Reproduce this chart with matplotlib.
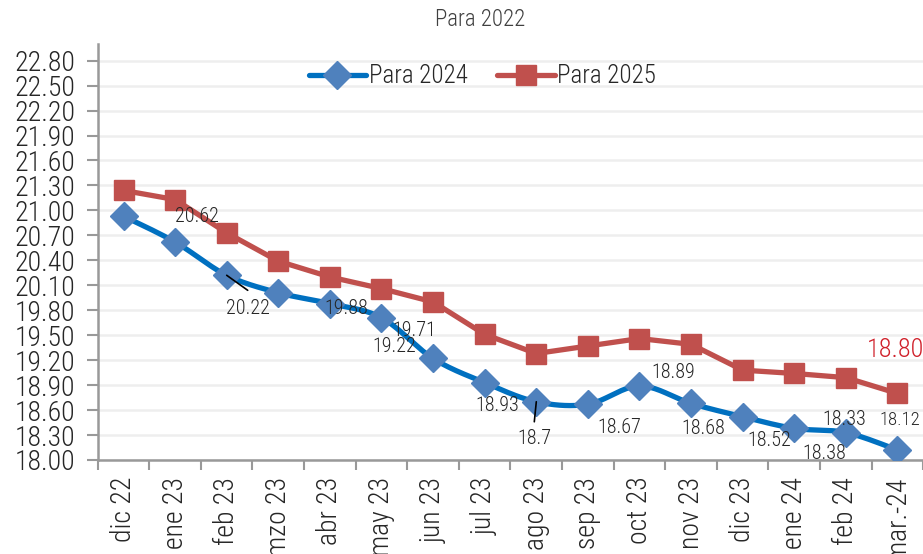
import numpy as np
import matplotlib
matplotlib.use("Agg")
import matplotlib.pyplot as plt
from matplotlib import font_manager as fm

names = {f.name for f in fm.fontManager.ttflist}
fam = [n for n in ["Roboto Condensed", "Liberation Sans Narrow", "Roboto", "DejaVu Sans"] if n in names]
plt.rcParams['font.family'] = fam
plt.rcParams['font.weight'] = 'light'

categories = ["dic 22", "ene 23", "feb 23", "mzo 23", "abr 23", "may 23", "jun 23", "jul 23",
              "ago 23", "sep 23", "oct 23", "nov 23", "dic 23", "ene 24", "feb 24", "mar.-24"]
para_2024 = [20.93, 20.62, 20.22, 20.01, 19.88, 19.71, 19.22, 18.93,
             18.70, 18.67, 18.89, 18.68, 18.52, 18.38, 18.33, 18.12]
para_2025 = [21.24, 21.13, 20.73, 20.39, 20.20, 20.06, 19.90, 19.51,
             19.28, 19.37, 19.46, 19.39, 19.08, 19.04, 18.99, 18.80]
label_2024 = ["", "20.62", "20.22", "", "19.88", "19.71", "19.22", "18.93",
              "18.7", "18.67", "18.89", "18.68", "18.52", "18.38", "18.33", "18.12"]
yticks = [18.00, 18.30, 18.60, 18.90, 19.20, 19.50, 19.80, 20.10, 20.40, 20.70,
          21.00, 21.30, 21.60, 21.90, 22.20, 22.50, 22.80]

# label offsets in pixels (dx, dy) relative to point
offs = {1: (22, 26), 2: (21, -33), 4: (16, -5), 5: (33, -13), 6: (-39, 12), 7: (13, -23),
        8: (-2, -37), 9: (31, -23), 10: (34, 13), 11: (12, -25), 12: (27, -24),
        13: (30, -25), 14: (-2, 13), 15: (2, 30)}

fig = plt.figure(figsize=(9.23, 5.54), dpi=100)
ax = fig.add_axes([97.7/923, 1-460/554, (923.3-97.7)/923, (460-44)/554])
x = np.arange(len(categories))
ax.set_xlim(-0.5, len(categories)-0.5)
ax.set_ylim(18.0, 23.0)

blue_line = "#0070C0"
blue_mk = "#4F81BD"
red = "#C0504D"

# smooth (Catmull-Rom) rendering of the 2024 line in display space
fig.canvas.draw()
pts = ax.transData.transform(np.column_stack([x, para_2024]))
P = np.vstack([pts[0], pts, pts[-1]])
curve = []
for i in range(1, len(P)-2):
    p0, p1, p2, p3 = P[i-1], P[i], P[i+1], P[i+2]
    for t in np.linspace(0, 1, 20, endpoint=False):
        t2, t3 = t*t, t*t*t
        c = 0.5*((2*p1) + (-p0+p2)*t + (2*p0-5*p1+4*p2-p3)*t2 + (-p0+3*p1-3*p2+p3)*t3)
        curve.append(c)
curve.append(P[-2])
curve = ax.transData.inverted().transform(np.array(curve))

ax.plot(curve[:, 0], curve[:, 1], color=blue_line, lw=3.8, solid_capstyle='round', zorder=3)
ax.plot(x, para_2024, ls='none', marker='D', ms=14, color=blue_mk, zorder=4)
ax.plot(x, para_2025, color=red, lw=3.8, marker='s', ms=14, zorder=3)

# legend handles
ax.plot([], [], color=blue_line, lw=3.8, marker='D', ms=14, mfc=blue_mk, mec=blue_mk, label="Para 2024", solid_capstyle='round')
ax.plot([], [], color=red, lw=3.8, marker='s', ms=14, label="Para 2025", solid_capstyle='round')
handles, labels = ax.get_legend_handles_labels()
leg = ax.legend(handles[-2:], labels[-2:], loc='upper center', bbox_to_anchor=(0.466, 1.005), ncol=2,
                frameon=False, fontsize=18, handlelength=2.3, handletextpad=0.1, columnspacing=1.2,
                labelcolor='#262626')

for i, lab in enumerate(label_2024):
    if not lab:
        continue
    dx, dy = offs[i]
    ax.annotate(lab, (x[i], para_2024[i]), xytext=(dx, dy), textcoords='offset pixels',
                ha='center', va='center', fontsize=14.5 if i != 15 else 13.5, color='#262626', zorder=6)
ax.annotate("18.80", (x[15], para_2025[15]), xytext=(-2, 43), textcoords='offset pixels',
            ha='center', va='center', fontsize=19, color='#D0202A', zorder=6)

# leader lines
ax.annotate('', (x[2], para_2024[2]), xytext=(21, -15), textcoords='offset pixels',
            arrowprops=dict(arrowstyle='-', color='black', lw=1.2, shrinkA=0, shrinkB=0), zorder=7)
ax.annotate('', (x[8], para_2024[8]), xytext=(-2, -20), textcoords='offset pixels',
            arrowprops=dict(arrowstyle='-', color='black', lw=1.2, shrinkA=0, shrinkB=0), zorder=7)

ax.set_yticks(yticks)
ax.set_yticklabels([f"{v:.2f}" for v in yticks], fontsize=20, color='#262626')
ax.set_xticks(x)
ax.set_xticklabels(categories, rotation=90, fontsize=20, color='#262626', va='top', ha='center')
ax.set_xticks(np.arange(-0.5, len(categories)), minor=True)
ax.tick_params(axis='x', which='major', length=0, pad=12)
ax.tick_params(axis='x', which='minor', length=7, width=1.5, color='#999999')
ax.tick_params(axis='y', length=8, width=1.5, color='#999999', pad=8)

ax.grid(axis='y', color='#EEEEEE', lw=1.8, zorder=0)
ax.set_axisbelow(True)
for s in ['top', 'right']:
    ax.spines[s].set_visible(False)
for s in ['left', 'bottom']:
    ax.spines[s].set_color('#999999')
    ax.spines[s].set_linewidth(1.8)

fig.text(480/923, 1-20/554, "Para 2022", ha='center', va='center', fontsize=16.5, color='#404040')

fig.savefig("out.png", dpi=100)
